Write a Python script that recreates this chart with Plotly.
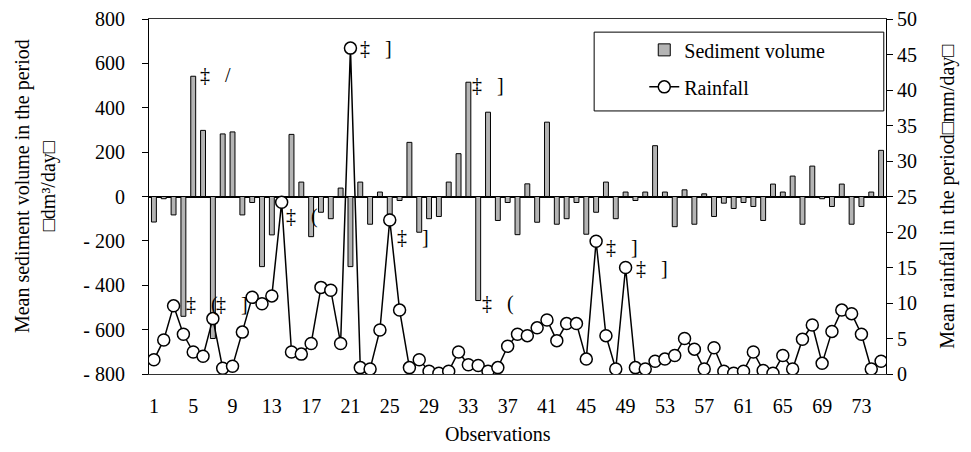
import plotly.graph_objects as go

# ---------------- data ----------------
observations = list(range(1, 76))

sediment_volume = [
    -115, -10, -83, -540, 542, 298, -640, 282, 291, -83,
    -27, -316, -173, -20, 280, 65, -181, -71, -100, 38,
    -316, 65, -125, 20, -80, -18, 244, -161, -100, -90,
    65, 193, 515, -469, 380, -108, -27, -172, 57, -116,
    335, -125, -100, -27, -170, -71, 65, -100, 20, -18,
    20, 229, 20, -136, 30, -125, 12, -90, -30, -54,
    -27, -45, -108, 56, 20, 92, -125, 137, -10, -45,
    56, -125, -45, 20, 208,
]

rainfall = [
    2.0, 4.8, 9.6, 5.6, 3.1, 2.5, 7.8, 0.8, 1.1, 5.9,
    10.8, 9.9, 11.0, 24.2, 3.1, 2.8, 4.3, 12.2, 11.8, 4.3,
    45.9, 0.9, 0.7, 6.2, 21.7, 9.0, 0.9, 2.0, 0.4, 0.1,
    0.4, 3.1, 1.3, 1.2, 0.4, 0.9, 3.9, 5.6, 5.4, 6.5,
    7.6, 4.7, 7.1, 7.1, 2.1, 18.7, 5.4, 0.7, 15.0, 0.9,
    0.7, 1.8, 2.1, 2.6, 5.0, 3.5, 0.7, 3.7, 0.4, 0.1,
    0.4, 3.1, 0.5, 0.1, 2.6, 0.7, 4.9, 6.9, 1.5, 6.0,
    9.0, 8.5, 5.6, 0.7, 1.8,
]

x_tickvals = list(range(1, 76, 4))
left_tickvals = [-800, -600, -400, -200, 0, 200, 400, 600, 800]
left_ticktext = ["- 800", "- 600", "- 400", "- 200", "0", "200", "400", "600", "800"]
right_tickvals = [0, 5, 10, 15, 20, 25, 30, 35, 40, 45, 50]

# point labels: (observation, series, text, xshift, yshift)
point_labels = [
    (5, "sed", "‡   /", 5, 1),
    (21, "rain", "‡   ]", 8, 0),
    (33, "sed", "‡   ]", 2, -3),
    (14, "rain", "‡   (", 2, -14),
    (25, "rain", "‡   ]", 5, -17),
    (4, "sed", "‡   (", 1, 12),
    (7, "rain", "‡   ]", 1, 15),
    (34, "sed", "‡   (", 2, -3),
    (46, "rain", "‡   ]", 8, -6),
    (49, "rain", "‡   ]", 8, 0),
]

FONT = "Liberation Serif, Times New Roman, serif"

fig = go.Figure()

fig.add_trace(go.Bar(
    x=observations, y=sediment_volume, name="Sediment volume",
    width=0.5,
    marker=dict(color="#b4b4b4", line=dict(color="black", width=1)),
    yaxis="y", legendgroup="a",
))

fig.add_trace(go.Scatter(
    x=observations, y=rainfall, name="Rainfall", mode="lines+markers",
    line=dict(color="black", width=1.5),
    marker=dict(symbol="circle", size=12, color="white",
                line=dict(color="black", width=1.5)),
    yaxis="y2", legendgroup="b",
))

annotations = []
for obs, series, text, dx, dy in point_labels:
    if series == "sed":
        yv, yref = sediment_volume[obs - 1], "y"
    else:
        yv, yref = rainfall[obs - 1], "y2"
    annotations.append(dict(
        x=obs, y=yv, xref="x", yref=yref, text=text, showarrow=False,
        xanchor="left", yanchor="middle", xshift=dx, yshift=dy,
        font=dict(family=FONT, size=20, color="black"),
    ))

# axis titles
annotations += [
    dict(text="Observations", xref="paper", yref="paper", x=0.4735, y=-0.17,
         xanchor="center", yanchor="middle", showarrow=False,
         font=dict(family=FONT, size=20, color="black")),
    dict(text="Mean sediment volume in the period<br>□dm³/day□", xref="paper", yref="paper",
         x=-0.153, y=0.53, xanchor="center", yanchor="middle", showarrow=False,
         textangle=-90, font=dict(family=FONT, size=20, color="black")),
    dict(text="Mean rainfall in the period□mm/day□", xref="paper", yref="paper",
         x=1.083, y=0.5, xanchor="center", yanchor="middle", showarrow=False,
         textangle=-90, font=dict(family=FONT, size=20, color="black")),
]

fig.update_layout(
    width=963, height=444,
    margin=dict(l=141, r=85, t=11, b=78),
    paper_bgcolor="white", plot_bgcolor="white",
    font=dict(family=FONT, size=20, color="black"),
    xaxis=dict(
        range=[0.5, 75.5], tickvals=x_tickvals, ticks="",
        showline=True, linecolor="#333333", linewidth=1, mirror=True,
        showgrid=False, zeroline=False, ticklabelstandoff=14, automargin=False,
        tickfont=dict(family=FONT, size=20, color="black"),
    ),
    yaxis=dict(
        range=[-800, 800], tickvals=left_tickvals, ticktext=left_ticktext,
        ticks="outside", ticklen=6, tickcolor="black",
        showline=True, linecolor="black", linewidth=1,
        showgrid=False, zeroline=True, zerolinecolor="black", zerolinewidth=1.5,
        ticklabelstandoff=13, automargin=False,
        tickfont=dict(family=FONT, size=20, color="black"),
    ),
    yaxis2=dict(
        range=[0, 50], tickvals=right_tickvals, overlaying="y", side="right",
        ticks="outside", ticklen=6, tickcolor="black",
        showline=True, linecolor="black", linewidth=1,
        showgrid=False, zeroline=False, automargin=False,
        tickfont=dict(family=FONT, size=20, color="black"),
    ),
    legend=dict(
        x=0.672, y=0.968, xanchor="left", yanchor="top",
        bgcolor="rgba(0,0,0,0)", borderwidth=0,
        font=dict(family=FONT, size=20, color="black"),
        tracegroupgap=8,
    ),
    shapes=[dict(
        type="rect", xref="paper", yref="paper",
        x0=0.604, x1=0.997, y0=0.741, y1=0.963,
        line=dict(color="black", width=1), fillcolor="rgba(0,0,0,0)",
    )],
    annotations=annotations,
    showlegend=True,
)

fig.write_html("out.html")
